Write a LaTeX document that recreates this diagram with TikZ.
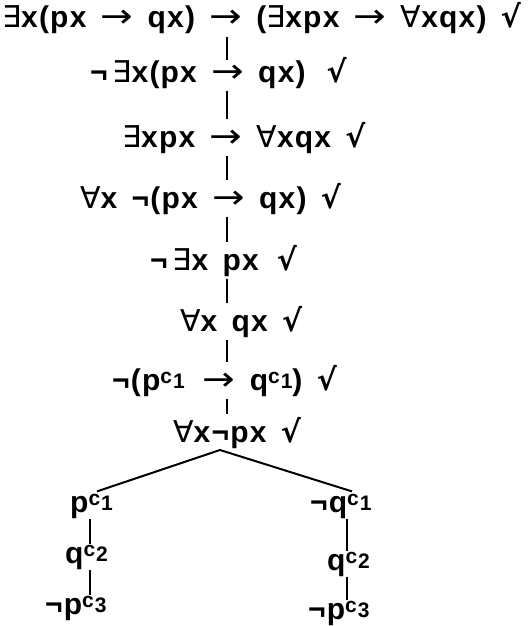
\documentclass[tikz,border=0pt]{standalone}
\usepackage{fontspec}
\setmainfont{Liberation Sans}[LetterSpace=4, WordSpace=1.5]
\newfontfamily\dejavu{DejaVu Sans}
\usetikzlibrary{positioning}

% symbols
\newcommand{\exq}{{\dejavu\mdseries ∃}}
\newcommand{\allq}{{\dejavu\mdseries ∀}}
\newcommand{\impl}{{\dejavu\mdseries\scalebox{1.3}[1.1]{→}}}
\newcommand{\chk}{{\dejavu\bfseries √}}
% constants c_n
\newcommand{\cst}[2]{#1\raisebox{0.22em}{\fontsize{21}{21}\selectfont c}\kern1pt\raisebox{0.05em}{\fontsize{21}{21}\selectfont #2}}

\begin{document}
\begin{tikzpicture}[
  x=1pt, y=-1pt,
  formula/.style={anchor=base west, inner xsep=0pt, inner ysep=2.5pt,
    font=\fontsize{30}{32}\selectfont\bfseries},
  branch/.style={line width=2pt},
]

\fill[white] (0,0) rectangle (532,626);
\useasboundingbox (0,0) rectangle (532,626);

% --- Trunk ---
\node[formula] (r1) at (2, 28)   {\exq x(px \impl{} qx) \impl{} (\exq xpx \impl{} \allq xqx) \chk};
\node[formula] (r2) at (90, 82)  {¬\,\exq x(px \impl{} qx)\hspace{0.7em}\chk};
\node[formula] (r3) at (122, 147) {\exq xpx \impl{} \allq xqx \chk};
\node[formula] (r4) at (80, 208) {\allq x ¬(px \impl{} qx) \chk};
\node[formula] (r5) at (150, 270) {¬\,\exq x px\hspace{0.6em}\chk};
\node[formula] (r6) at (180, 331) {\allq x qx \chk};
\node[formula] (r7) at (112, 390) {¬(\cst{p}{1}\hspace{0.6em}\impl{} \cst{q}{1}) \chk};
\node[formula] (r8) at (173, 442) {\allq x¬px \chk};

% --- Left branch ---
\node[formula] (l1) at (70, 512) {\cst{p}{1}};
\node[formula] (l2) at (65, 563) {\cst{q}{2}};
\node[formula] (l3) at (45, 614) {¬\cst{p}{3}};

% --- Right branch ---
\node[formula] (m1) at (310, 512) {¬\cst{q}{1}};
\node[formula] (m2) at (327, 570) {\cst{q}{2}};
\node[formula] (m3) at (308, 619) {¬\cst{p}{3}};

\coordinate (tr) at (227, 0);
\coordinate (lt) at (90, 0);
\coordinate (rt) at (347, 0);
\coordinate (apex) at (220, 450);
\coordinate (lb) at (97, 0);
\coordinate (rb) at (352, 0);

% connectors
\draw[branch, shorten >=-6pt] (r1.south -| tr) -- (r2.north -| tr);
\foreach \a/\b in {r2/r3, r3/r4, r4/r5, r5/r6, r6/r7, r7/r8} {
  \draw[branch] (\a.south -| tr) -- (\b.north -| tr);
}
\draw[branch] (l1.north -| lb) -- (apex) -- (m1.north -| rb);
\draw[branch, shorten <=-2pt, shorten >=-2pt] (l1.south -| lt) -- (l2.north -| lt);
\draw[branch, shorten <=-2pt, shorten >=-2pt] (l2.south -| lt) -- (l3.north -| lt);
\draw[branch, shorten <=-2pt, shorten >=-2pt] (m1.south -| rt) -- (m2.north -| rt);
\draw[branch, shorten <=-2pt, shorten >=-2pt] (m2.south -| rt) -- (m3.north -| rt);

\end{tikzpicture}
\end{document}
